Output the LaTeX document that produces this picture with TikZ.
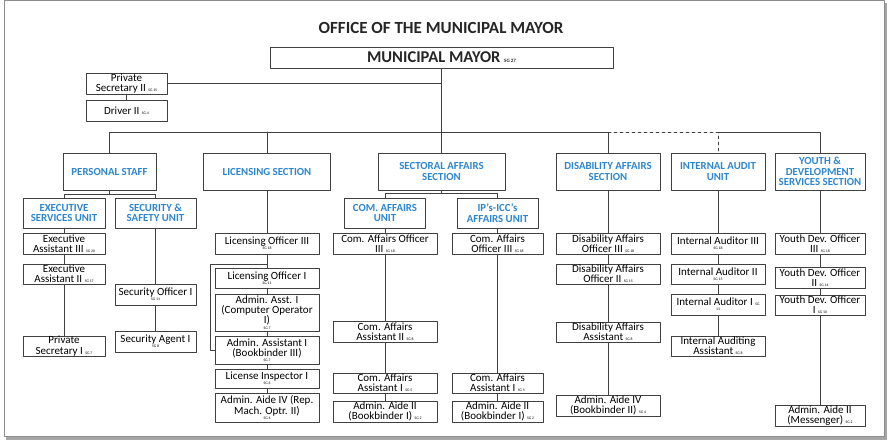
\documentclass[tikz,border=0pt]{standalone}
\usepackage{fontspec}
\setmainfont{Carlito}
\definecolor{unitblue}{RGB}{46,134,206}
\definecolor{wire}{RGB}{64,64,64}
\newcommand{\sgfont}{\fontsize{3.8}{4}\selectfont}
\newcommand{\sg}[1]{{\sgfont SG #1}}
\newcommand{\sgline}[1]{\\[-5pt]\sg{#1}}
\begin{document}
\begin{tikzpicture}[x=1pt, y=-1pt, line cap=round, line join=round,
  post/.style={draw=wire, fill=white, align=center, inner sep=0pt, font=\fontsize{11}{10.3}\selectfont},
  unit/.style={post, text=unitblue, font=\fontsize{10.8}{10.3}\selectfont\bfseries},
  wires/.style={wire, line width=0.8pt}]
\useasboundingbox (0,0) rectangle (889,444);
% page frame
\fill[black!35] (6,3) rectangle (887,440);
\draw[black!45, fill=white] (4,0.5) rectangle (884,436);
\node[font=\fontsize{17}{18}\selectfont\bfseries, text=black!85] (title) at (441,28) {OFFICE OF THE MUNICIPAL MAYOR};

% top level
\node[post, minimum width=343, minimum height=21, font=\fontsize{16.5}{17}\selectfont\bfseries, text=black!85] (mayor) at (441.5,57.5) {MUNICIPAL MAYOR {\fontsize{5}{5}\selectfont SG 27}};
\node[post, minimum width=81, minimum height=21] (ps2) at (126.5,83.5) {Private\\Secretary II \sg{15}};
\node[post, minimum width=81, minimum height=21] (drv) at (126.5,110.5) {Driver II \sg{4}};
\coordinate (bus) at (441.5,132);

% sections
\node[unit, minimum width=93, minimum height=37] (pstaff) at (109.5,171.5) {PERSONAL STAFF};
\node[unit, minimum width=127, minimum height=37] (lic) at (267,171.5) {LICENSING SECTION};
\node[unit, minimum width=127, minimum height=37] (sect) at (441.5,171.5) {SECTORAL AFFAIRS\\SECTION};
\node[unit, minimum width=104, minimum height=37] (dis) at (608,171.5) {DISABILITY AFFAIRS\\SECTION};
\node[unit, minimum width=94, minimum height=37] (iau) at (718,171.5) {INTERNAL AUDIT\\UNIT};
\node[unit, minimum width=90, minimum height=37] (yth) at (820,171.5) {YOUTH \&\\DEVELOPMENT\\SERVICES SECTION};

% units
\node[unit, minimum width=82, minimum height=30] (esu) at (64,213) {EXECUTIVE\\SERVICES UNIT};
\node[unit, minimum width=81, minimum height=30] (ssu) at (155.5,213) {SECURITY \&\\SAFETY UNIT};
\node[unit, minimum width=81, minimum height=30] (cau) at (385,213) {COM. AFFAIRS\\UNIT};
\node[unit, minimum width=81, minimum height=30] (ipu) at (497.5,213) {IP’s-ICC’s\\AFFAIRS UNIT};

% personal staff
\node[post, minimum width=82, minimum height=21] (ea3) at (64,243.5) {Executive\\Assistant III \sg{20}};
\node[post, minimum width=82, minimum height=20] (ea2) at (64,274) {Executive\\Assistant II \sg{17}};
\node[post, minimum width=82, minimum height=20] (ps1) at (64,346) {Private\\Secretary I \sg{7}};
\node[post, minimum width=81, minimum height=21] (so1) at (155.5,294.5) {Security Officer I\sgline{11}};
\node[post, minimum width=81, minimum height=21] (sa1) at (155.5,341.5) {Security Agent I\sgline{8}};

% licensing
\node[post, minimum width=104, minimum height=21] (lo3) at (267,243.5) {Licensing Officer III\sgline{18}};
\node[post, minimum width=104, minimum height=20] (lo1) at (267,278) {Licensing Officer I\sgline{11}};
\node[post, minimum width=104, minimum height=37] (aa1c) at (267,312.5) {Admin. Asst. I\\(Computer Operator\\I)\sgline{7}};
\node[post, minimum width=104, minimum height=28] (aa1b) at (267,350) {Admin. Assistant I\\(Bookbinder III)\sgline{7}};
\node[post, minimum width=104, minimum height=19] (li1) at (267,378.5) {License Inspector I\sgline{6}};
\node[post, minimum width=104, minimum height=29] (aa4r) at (267,407.5) {Admin. Aide IV (Rep.\\Mach. Optr. II)\sgline{4}};
\coordinate (licfork) at (267,264);

% sectoral affairs
\node[post, minimum width=104, minimum height=21] (cao3a) at (385,243.5) {Com. Affairs Officer\\III \sg{18}};
\node[post, minimum width=104, minimum height=21] (caa2) at (385,331.5) {Com. Affairs\\Assistant II \sg{8}};
\node[post, minimum width=104, minimum height=20] (caa1a) at (385,383) {Com. Affairs\\Assistant I \sg{5}};
\node[post, minimum width=104, minimum height=21] (aida) at (385,411.5) {Admin. Aide II\\(Bookbinder I) \sg{2}};
\node[post, minimum width=91, minimum height=21] (cao3b) at (497.5,243.5) {Com. Affairs\\Officer III \sg{18}};
\node[post, minimum width=91, minimum height=20] (caa1b) at (497.5,383) {Com. Affairs\\Assistant I \sg{5}};
\node[post, minimum width=91, minimum height=21] (aidb) at (497.5,411.5) {Admin. Aide II\\(Bookbinder I) \sg{2}};

% disability affairs
\node[post, minimum width=104, minimum height=21] (dao3) at (608,243.5) {Disability Affairs\\Officer III \sg{18}};
\node[post, minimum width=104, minimum height=20] (dao2) at (608,274) {Disability Affairs\\Officer II \sg{15}};
\node[post, minimum width=104, minimum height=20] (daa) at (608,332) {Disability Affairs\\Assistant \sg{8}};
\node[post, minimum width=104, minimum height=21] (daa4) at (608,405.5) {Admin. Aide IV\\(Bookbinder II) \sg{4}};

% internal audit
\node[post, minimum width=94, minimum height=21] (ia3) at (718,243.5) {Internal Auditor III\sgline{18}};
\node[post, minimum width=94, minimum height=20] (ia2) at (718,274) {Internal Auditor II\sgline{15}};
\node[post, minimum width=94, minimum height=21] (ia1) at (718,304.5) {Internal Auditor I {\sgfont SG}\\[-5pt]{\sgfont 11}};
\node[post, minimum width=94, minimum height=20] (iaa) at (718,346) {Internal Auditing\\Assistant \sg{8}};

% youth
\node[post, minimum width=90, minimum height=21] (yd3) at (820,244) {Youth Dev. Officer\\III \sg{18}};
\node[post, minimum width=90, minimum height=21] (yd2) at (820,277.5) {Youth Dev. Officer\\II \sg{14}};
\node[post, minimum width=90, minimum height=20] (yd1) at (820,305) {Youth Dev. Officer\\I \sg{10}};
\node[post, minimum width=90, minimum height=21] (aidm) at (820,415.5) {Admin. Aide II\\(Messenger) \sg{2}};

% connectors
\begin{scope}[wires]
\draw (mayor) -- (bus);
\draw (ps2.east) -- (ps2.east -| bus);
\draw (ps2) -- (drv);
\draw (pstaff) |- (dis.north |- bus) -- (dis);
\draw (lic) -- (lic |- bus);
\draw (sect) -- (bus);
\draw[dashed] (dis.north |- bus) -| (iau);
\draw (iau.north |- bus) -| (yth);
\draw (pstaff.south) -- ++(0,4) coordinate (psfork);
\draw (esu) |- (psfork) -| (ssu);
\draw (esu) -- (ea3);
\draw (ea3) -- (ea2);
\draw (ea2) -- (ps1);
\draw (ssu) -- (so1);
\draw (so1) -- (sa1);
\draw (lic) -- (lo3);
\draw (lo3) -- (lo1);
\draw (licfork) -- ++(-57,0) |- (aa1b.west);
\draw (lo1) -- (aa1c);
\draw (aa1c) -- (aa1b);
\draw (aa1b) -- (li1);
\draw (li1) -- (aa4r);
\draw (sect.south) -- ++(0,3) coordinate (secfork);
\draw (cau) |- (secfork) -| (ipu);
\draw (cau) -- (cao3a);
\draw (cao3a) -- (caa2);
\draw (caa2) -- (caa1a);
\draw (caa1a) -- (aida);
\draw (ipu) -- (cao3b);
\draw (cao3b) -- (caa1b);
\draw (caa1b) -- (aidb);
\draw (dis) -- (dao3);
\draw (dao3) -- (dao2);
\draw (dao2) -- (daa);
\draw (daa) -- (daa4);
\draw (iau) -- (ia3);
\draw (ia3) -- (ia2);
\draw (ia2) -- (ia1);
\draw (ia1) -- (iaa);
\draw (yth) -- (yd3);
\draw (yd3) -- (yd2);
\draw (yd2) -- (yd1);
\draw (yd1) -- (aidm);
\end{scope}
\end{tikzpicture}
\end{document}
